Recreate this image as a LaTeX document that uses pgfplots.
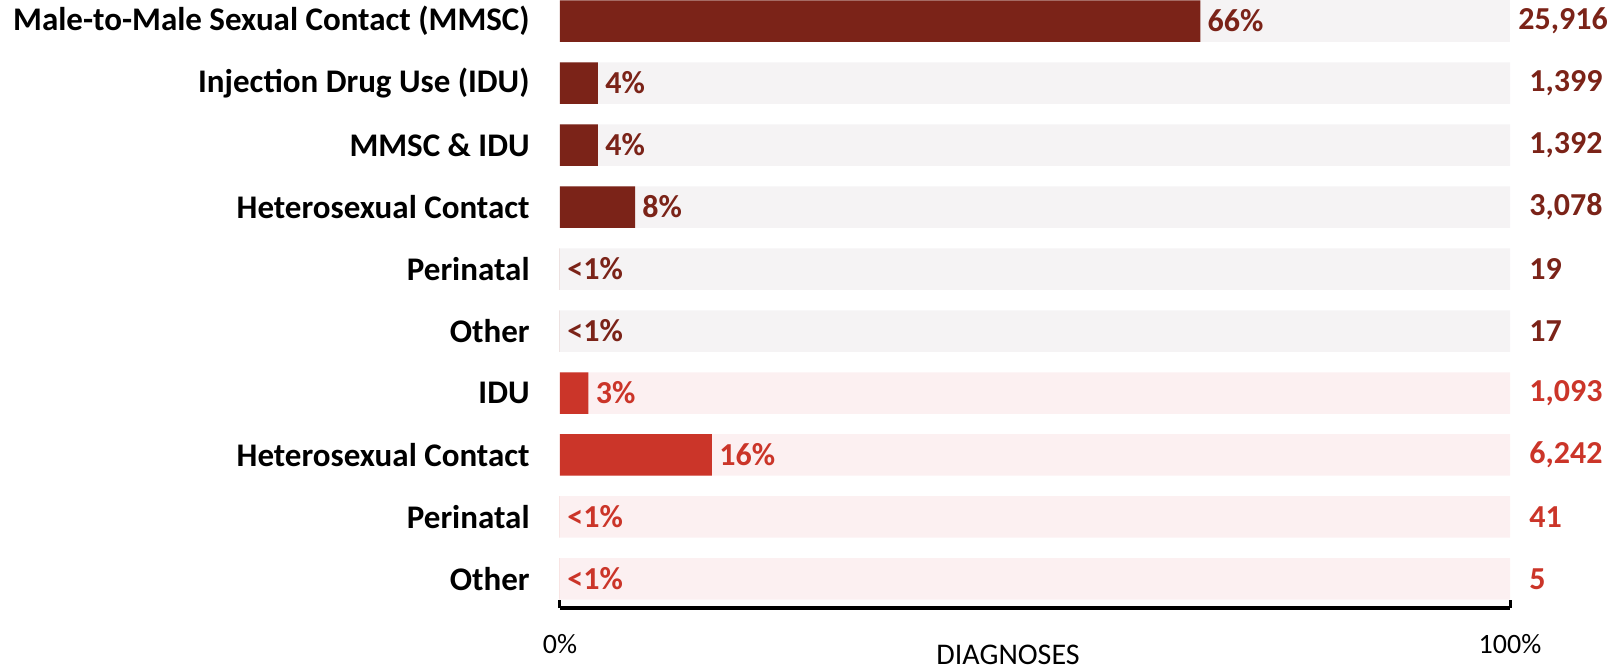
\documentclass[border=0pt]{standalone}
\usepackage{fontspec}
\setmainfont{Carlito}
\usepackage{pgfplots}
\pgfplotsset{compat=1.18}
\definecolor{darkred}{HTML}{7B2318}
\definecolor{lightred}{HTML}{CB3529}
\definecolor{bggray}{HTML}{F5F3F4}
\definecolor{bgpink}{HTML}{FCF0F1}

\begin{document}
\begin{tikzpicture}
% page frame: 1px of the reference = 0.5pt
\useasboundingbox (-280pt,-31.5pt) rectangle (531pt,304pt);
\begin{axis}[
    at={(0,0)}, anchor=south west,
    scale only axis,
    width=475pt, height=304pt,
    xbar, bar width=20.75pt, bar shift=0pt,
    xmin=0, xmax=100,
    ymin=0.532, ymax=10.339,
    axis x line*=bottom,
    axis y line*=left,
    y axis line style={draw=none},
    x axis line style={line width=1.75pt},
    xtick={0,100},
    xticklabels={0\%,100\%},
    x tick style={line width=1.5pt, black},
    tick align=inside,
    major tick length=4pt,
    xticklabel style={font=\fontsize{14}{16}\selectfont, anchor=center, yshift=-18pt},
    y tick style={draw=none},
    ytick={1,...,10},
    yticklabels={Other, Perinatal, Heterosexual Contact, IDU, Other, Perinatal,
        Heterosexual Contact, MMSC \& IDU\ , Injection Drug Use (IDU),
        Male-to-Male Sexual Contact (MMSC)},
    yticklabel style={font=\bfseries\fontsize{16.5}{18}\selectfont, inner sep=0pt,
        anchor=east, xshift=-15pt},
    xlabel={DIAGNOSES},
    xlabel style={font=\fontsize{15}{17}\selectfont, at={(axis description cs:0.4716,0)},
        anchor=center, yshift=-23.5pt},
    clip=false,
    point meta=explicit symbolic,
    nodes near coords,
    nodes near coords style={font=\bfseries\fontsize{16}{18}\selectfont, anchor=west,
        inner sep=0pt},
]
% background bars, with the counts at their right end
\addplot[fill=bggray, draw=none,
    nodes near coords style={text=darkred, xshift=4pt}] coordinates {
    (100,10) [25{,}916]
};
\addplot[fill=bggray, draw=none,
    nodes near coords style={text=darkred, xshift=9.5pt}] coordinates {
    (100,9)  [1{,}399]
    (100,8)  [1{,}392]
    (100,7)  [3{,}078]
    (100,6)  [19]
    (100,5)  [17]
};
\addplot[fill=bgpink, draw=none,
    nodes near coords style={text=lightred, xshift=9.5pt}] coordinates {
    (100,4) [1{,}093]
    (100,3) [6{,}242]
    (100,2) [41]
    (100,1) [5]
};
% share bars
\addplot[fill=darkred, draw=none,
    nodes near coords style={text=darkred, xshift=3.5pt}] coordinates {
    (67.4,10) [66\%]
    (4.0,9)   [4\%]
    (4.0,8)   [4\%]
    (7.9,7)   [8\%]
    (0,6)     [<1\%]
    (0,5)     [<1\%]
};
\addplot[fill=lightred, draw=none,
    nodes near coords style={text=lightred, xshift=3.5pt}] coordinates {
    (3.0,4)   [3\%]
    (16.0,3)  [16\%]
    (0,2)     [<1\%]
    (0,1)     [<1\%]
};
\end{axis}
\end{tikzpicture}
\end{document}
